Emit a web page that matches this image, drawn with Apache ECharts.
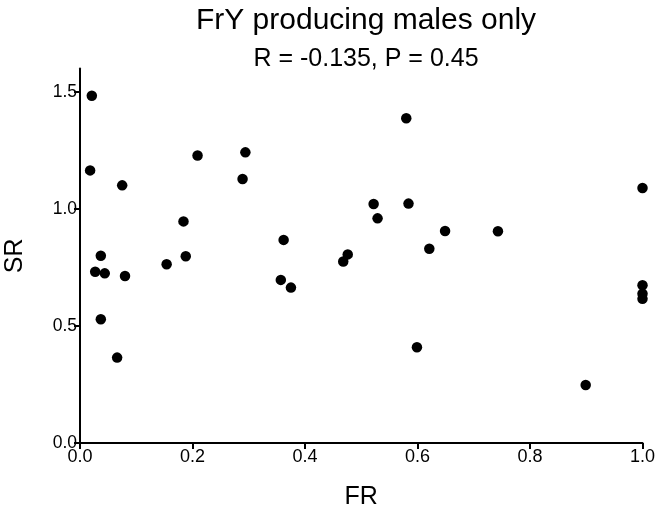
<!DOCTYPE html>
<html>
<head>
<meta charset="utf-8">
<script src="https://cdn.jsdelivr.net/npm/echarts@6/dist/echarts.min.js"></script>
<style>
html,body{margin:0;padding:0;background:#fff;}
#chart{width:660px;height:512px;}
</style>
</head>
<body>
<div id="chart"></div>
<script>
const titleText = 'FrY producing males only';
const subtitleText = 'R = -0.135, P = 0.45';
const xName = 'FR';
const yName = 'SR';
const xTicks = [0, 0.2, 0.4, 0.6, 0.8, 1.0];
const yTicks = [0, 0.5, 1.0, 1.5];
// FR values
const frValues = [0.021, 0.018, 0.075, 0.209, 0.294, 0.289, 0.184, 0.037, 0.027, 0.044, 0.080, 0.154, 0.188, 0.362, 0.357, 0.375, 0.037, 0.066,
  0.580, 1.0, 0.522, 0.584, 0.529, 0.649, 0.743, 0.621, 0.476, 0.468, 1.0, 1.0, 1.0, 0.599, 0.899];
// SR values
const srValues = [1.484, 1.165, 1.101, 1.229, 1.242, 1.128, 0.947, 0.800, 0.732, 0.725, 0.714, 0.764, 0.798, 0.868, 0.697, 0.664, 0.529, 0.365,
  1.388, 1.090, 1.021, 1.023, 0.960, 0.906, 0.905, 0.830, 0.806, 0.776, 0.674, 0.638, 0.616, 0.409, 0.248];

const points = frValues.map((x, i) => [x, srValues[i]]);
const font = 'Liberation Sans, Arial, Helvetica, sans-serif';

const chart = echarts.init(document.getElementById('chart'), null, {renderer: 'canvas'});
chart.setOption({
  animation: false,
  backgroundColor: '#ffffff',
  title: [
    {text: titleText, left: 361, top: 1, textAlign: 'center',
     textStyle: {fontFamily: font, fontSize: 30, fontWeight: 'normal', color: '#000'}},
    {text: subtitleText, left: 361, top: 42, textAlign: 'center',
     textStyle: {fontFamily: font, fontSize: 25, fontWeight: 'normal', color: '#000'}}
  ],
  grid: {left: 80, right: 17.5, top: 68.6, bottom: 69, containLabel: false, outerBoundsMode: 'none'},
  xAxis: {
    type: 'value', min: 0, max: 1, interval: 0.2,
    name: xName, nameLocation: 'middle', nameGap: 42,
    nameTextStyle: {fontFamily: font, fontSize: 25, color: '#000'},
    splitLine: {show: false},
    axisLine: {show: true, onZero: false, lineStyle: {color: '#000', width: 2}},
    axisTick: {show: true, length: 6, lineStyle: {color: '#000', width: 2}, customValues: xTicks},
    axisLabel: {fontFamily: font, fontSize: 18, color: '#000', margin: 5, customValues: xTicks,
      formatter: v => v.toFixed(1)}
  },
  yAxis: {
    type: 'value', min: 0, max: 1.6, interval: 0.5,
    name: yName, nameLocation: 'middle', nameGap: 52, nameRotate: 90,
    nameTextStyle: {fontFamily: font, fontSize: 25, color: '#000'},
    splitLine: {show: false},
    axisLine: {show: true, onZero: false, lineStyle: {color: '#000', width: 2}},
    axisTick: {show: true, length: 6, lineStyle: {color: '#000', width: 2}, customValues: yTicks},
    axisLabel: {fontFamily: font, fontSize: 17.5, color: '#000', margin: 3, customValues: yTicks,
      formatter: v => v.toFixed(1)}
  },
  series: [{
    type: 'scatter',
    data: points,
    symbol: 'circle',
    symbolSize: 10.5,
    itemStyle: {color: '#000', opacity: 1},
    emphasis: {disabled: true}
  }]
});
</script>
</body>
</html>
